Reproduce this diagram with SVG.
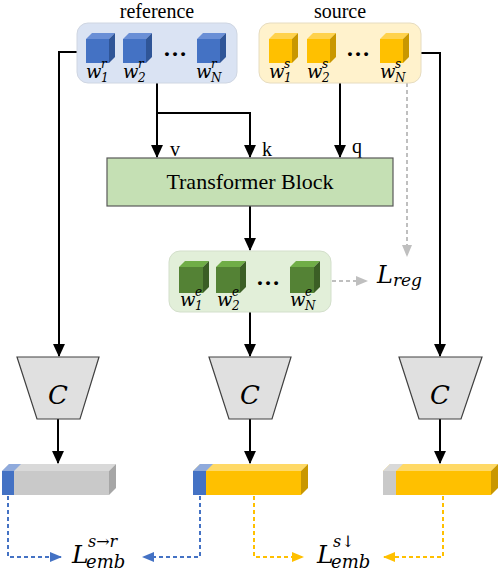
<svg xmlns="http://www.w3.org/2000/svg" width="498" height="572" viewBox="0 0 498 572">
<style>
.t{font-family:"Liberation Serif","Times New Roman",serif;fill:#000}
.m{font-family:"DejaVu Serif",serif;font-style:italic;fill:#000}
.w{font-family:"DejaVu Serif",serif;font-style:italic;fill:#000;font-size:18px}
.s{font-family:"DejaVu Serif",serif;font-style:italic;fill:#000;font-size:12px}
.dots{font-family:"Liberation Serif",serif;font-weight:bold;font-size:24px;fill:#000}
.ln{stroke:#000;stroke-width:2;fill:none}
.dg{stroke:#bfbfbf;stroke-width:2;fill:none;stroke-dasharray:4 3}
.db{stroke:#4472c4;stroke-width:2;fill:none;stroke-dasharray:4 3}
.dy{stroke:#ffc000;stroke-width:2;fill:none;stroke-dasharray:4 3}
.trap{fill:#e0e0e0;stroke:#404040;stroke-width:1.2}
</style>
<defs>
<marker id="ab" viewBox="0 0 12 12" refX="11" refY="6" markerWidth="13" markerHeight="13" markerUnits="userSpaceOnUse" orient="auto"><path d="M0,0.5 L12,6 L0,11.5 Z" fill="#000"/></marker>
<marker id="ag" viewBox="0 0 12 12" refX="11" refY="6" markerWidth="12" markerHeight="12" markerUnits="userSpaceOnUse" orient="auto"><path d="M0,1 L12,6 L0,11 Z" fill="#bfbfbf"/></marker>
<marker id="abl" viewBox="0 0 12 12" refX="11" refY="6" markerWidth="12" markerHeight="12" markerUnits="userSpaceOnUse" orient="auto"><path d="M0,1 L12,6 L0,11 Z" fill="#4472c4"/></marker>
<marker id="ay" viewBox="0 0 12 12" refX="11" refY="6" markerWidth="12" markerHeight="12" markerUnits="userSpaceOnUse" orient="auto"><path d="M0,1 L12,6 L0,11 Z" fill="#ffc000"/></marker>
<g id="cubeB"><rect x="0" y="0" width="23" height="24" fill="#4472c4"/><path d="M0,0 L6,-6 L29,-6 L23,0 Z" fill="#6a8fd6"/><path d="M23,0 L29,-6 L29,18 L23,24 Z" fill="#2f5597"/></g>
<g id="cubeY"><rect x="0" y="0" width="23" height="24" fill="#ffc000"/><path d="M0,0 L6,-6 L29,-6 L23,0 Z" fill="#ffd24d"/><path d="M23,0 L29,-6 L29,18 L23,24 Z" fill="#c99700"/></g>
<g id="cubeG"><rect x="0" y="0" width="24" height="26" fill="#548235"/><path d="M0,0 L6,-6 L30,-6 L24,0 Z" fill="#70ad47"/><path d="M24,0 L30,-6 L30,20 L24,26 Z" fill="#3b5e25"/></g>
</defs>

<g id="connectors">
<path class="ln" d="M77,52 H59 V356" marker-end="url(#ab)"/>
<path class="ln" d="M157,83 V157" marker-end="url(#ab)"/>
<path class="ln" d="M157,113 H250 V157" marker-end="url(#ab)"/>
<path class="ln" d="M340,83 V157" marker-end="url(#ab)"/>
<path class="ln" d="M421,53 H440 V356" marker-end="url(#ab)"/>
<path class="dg" d="M407,83 V256" marker-end="url(#ag)"/>
<path class="ln" d="M250,206 V250" marker-end="url(#ab)"/>
<path class="dg" d="M332,281 H367" marker-end="url(#ag)"/>
<path class="ln" d="M250,312 V356" marker-end="url(#ab)"/>
<path class="ln" d="M58,419 V463" marker-end="url(#ab)"/>
<path class="ln" d="M250,419 V463" marker-end="url(#ab)"/>
<path class="ln" d="M440,419 V463" marker-end="url(#ab)"/>
<path class="db" d="M8,496 V557 H61" marker-end="url(#abl)"/>
<path class="db" d="M200,496 V557 H143" marker-end="url(#abl)"/>
<path class="dy" d="M254,496 V557 H303" marker-end="url(#ay)"/>
<path class="dy" d="M443,496 V557 H384" marker-end="url(#ay)"/>
</g>

<g id="reference">
<text class="t" x="157" y="18" font-size="20" text-anchor="middle">reference</text>
<rect x="77" y="23" width="160" height="60" rx="11" fill="#dae3f3" stroke="#cfd6e2" stroke-width="1"/>
<use href="#cubeB" x="86" y="39"/>
<use href="#cubeB" x="123" y="39"/>
<use href="#cubeB" x="197" y="39"/>
<text class="dots" x="175" y="56" text-anchor="middle">…</text>
<text class="w" x="86" y="78">w</text><text class="s" x="101" y="68">r</text><text class="s" x="101" y="82">1</text>
<text class="w" x="123" y="78">w</text><text class="s" x="138" y="68">r</text><text class="s" x="138" y="82">2</text>
<text class="w" x="196" y="78">w</text><text class="s" x="211" y="68">r</text><text class="s" x="211" y="82">N</text>
</g>

<g id="source">
<text class="t" x="340" y="18" font-size="20" text-anchor="middle">source</text>
<rect x="259" y="23" width="162" height="60" rx="11" fill="#fff2cc" stroke="#e6dcc0" stroke-width="1"/>
<use href="#cubeY" x="269" y="39"/>
<use href="#cubeY" x="307" y="39"/>
<use href="#cubeY" x="380" y="39"/>
<text class="dots" x="358" y="56" text-anchor="middle">…</text>
<text class="w" x="269" y="78">w</text><text class="s" x="284" y="68">s</text><text class="s" x="284" y="82">1</text>
<text class="w" x="307" y="78">w</text><text class="s" x="322" y="68">s</text><text class="s" x="322" y="82">2</text>
<text class="w" x="380" y="78">w</text><text class="s" x="395" y="68">s</text><text class="s" x="395" y="82">N</text>
</g>

<g id="qkv-labels">
<text class="t" x="170" y="156" font-size="20">v</text>
<text class="t" x="262" y="156" font-size="20">k</text>
<text class="t" x="352" y="153" font-size="20">q</text>
</g>

<g id="transformer">
<rect x="107" y="158" width="286" height="48" fill="#c5e0b4" stroke="#595959" stroke-width="1.2"/>
<text class="t" x="250" y="189" font-size="22" text-anchor="middle">Transformer Block</text>
</g>

<g id="embedding">
<rect x="169" y="251" width="162" height="61" rx="11" fill="#e2efd9" stroke="#d3dfcb" stroke-width="1"/>
<use href="#cubeG" x="179" y="267"/>
<use href="#cubeG" x="216" y="267"/>
<use href="#cubeG" x="290" y="267"/>
<text class="dots" x="268" y="285" text-anchor="middle">…</text>
<text class="w" x="180" y="306">w</text><text class="s" x="195" y="296">e</text><text class="s" x="195" y="310">1</text>
<text class="w" x="217" y="306">w</text><text class="s" x="232" y="296">e</text><text class="s" x="232" y="310">2</text>
<text class="w" x="290" y="306">w</text><text class="s" x="305" y="296">e</text><text class="s" x="305" y="310">N</text>
</g>

<g id="lreg">
<text class="m" x="377" y="283" font-size="24">L<tspan font-size="17" dy="3">reg</tspan></text>
</g>

<g id="c-left">
<path class="trap" d="M17,357 H99 L80,419 H37 Z"/>
<text class="m" x="58" y="404" font-size="26" text-anchor="middle">C</text>
</g>
<g id="c-mid">
<path class="trap" d="M209,357 H291 L272,419 H229 Z"/>
<text class="m" x="250" y="404" font-size="26" text-anchor="middle">C</text>
</g>
<g id="c-right">
<path class="trap" d="M399,357 H482 L461,419 H419 Z"/>
<text class="m" x="440" y="404" font-size="26" text-anchor="middle">C</text>
</g>

<g id="bar-left">
<path d="M2,471 L9,464 L116,464 L109,471 Z" fill="#d9d9d9"/>
<path d="M2,471 L9,464 L21,464 L14,471 Z" fill="#8faadc"/>
<path d="M109,471 L116,464 L116,488 L109,495 Z" fill="#a6a6a6"/>
<rect x="2" y="471" width="107" height="24" fill="#c9c9c9"/>
<rect x="2" y="471" width="12" height="24" fill="#4472c4"/>
</g>
<g id="bar-mid">
<path d="M193,471 L200,464 L308,464 L301,471 Z" fill="#ffd966"/>
<path d="M193,471 L200,464 L213,464 L206,471 Z" fill="#8faadc"/>
<path d="M301,471 L308,464 L308,488 L301,495 Z" fill="#c99700"/>
<rect x="193" y="471" width="108" height="24" fill="#ffc000"/>
<rect x="193" y="471" width="13" height="24" fill="#4472c4"/>
</g>
<g id="bar-right">
<path d="M383,471 L390,464 L498,464 L491,471 Z" fill="#ffd966"/>
<path d="M383,471 L390,464 L403,464 L396,471 Z" fill="#d9d9d9"/>
<path d="M491,471 L498,464 L498,488 L491,495 Z" fill="#c99700"/>
<rect x="383" y="471" width="108" height="24" fill="#ffc000"/>
<rect x="383" y="471" width="13" height="24" fill="#c9c9c9"/>
</g>

<g id="lemb-sr">
<text class="m" x="72" y="563" font-size="25">L</text>
<text class="m" x="88" y="547" font-size="16">s→r</text>
<text class="m" x="86" y="568" font-size="18">emb</text>
</g>
<g id="lemb-sd">
<text class="m" x="317" y="563" font-size="25">L</text>
<text class="m" x="333" y="547" font-size="16">s↓</text>
<text class="m" x="331" y="568" font-size="18">emb</text>
</g>
</svg>
